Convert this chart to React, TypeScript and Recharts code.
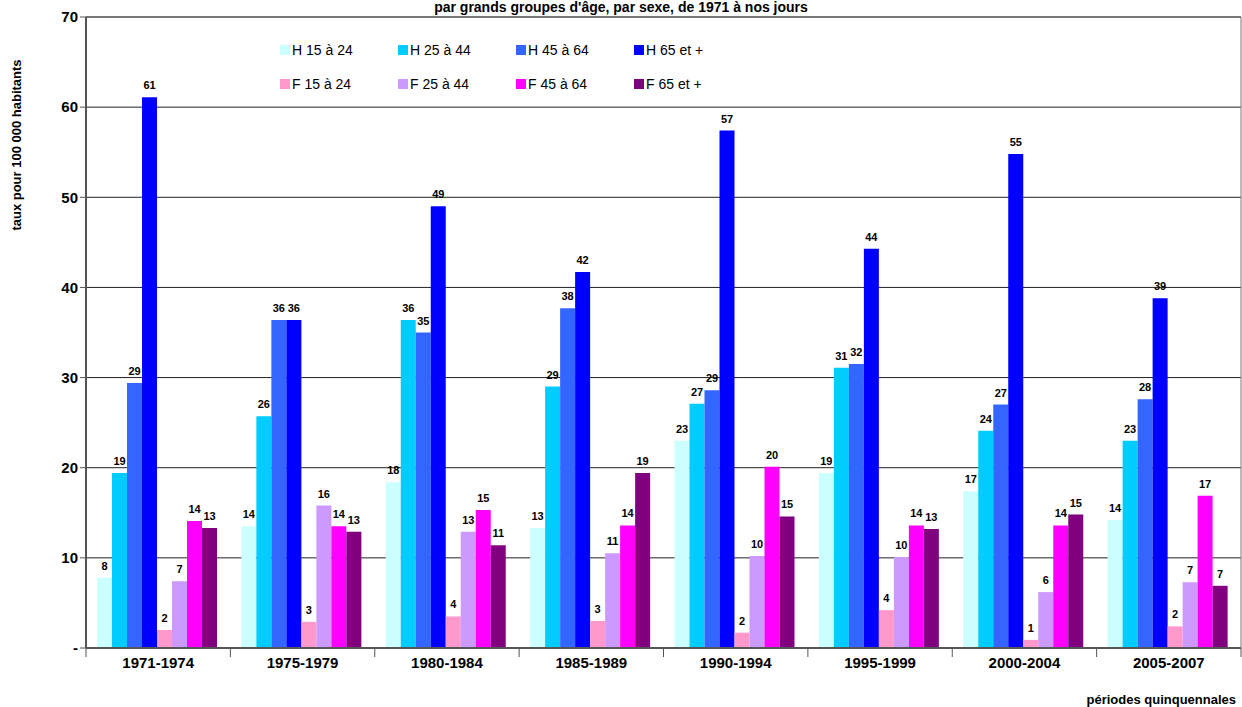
import React from "react";
import { BarChart, Bar, XAxis, YAxis, CartesianGrid, LabelList } from "recharts";

const periods = [
  "1971-1974", "1975-1979", "1980-1984", "1985-1989",
  "1990-1994", "1995-1999", "2000-2004", "2005-2007",
];

// taux pour 100 000 habitants
const h15_24 = [7.8, 13.5, 18.4, 13.3, 23.0, 19.4, 17.4, 14.2];
const h25_44 = [19.4, 25.7, 36.4, 29.0, 27.1, 31.1, 24.1, 23.0];
const h45_64 = [29.4, 36.4, 35.0, 37.7, 28.6, 31.5, 27.0, 27.6];
const h65 = [61.1, 36.4, 49.0, 41.7, 57.4, 44.3, 54.8, 38.8];
const f15_24 = [2.0, 2.9, 3.5, 3.0, 1.7, 4.2, 0.9, 2.4];
const f25_44 = [7.4, 15.8, 12.9, 10.5, 10.2, 10.1, 6.2, 7.3];
const f45_64 = [14.1, 13.5, 15.3, 13.6, 20.1, 13.6, 13.6, 16.9];
const f65 = [13.3, 12.9, 11.4, 19.4, 14.6, 13.2, 14.8, 6.9];

const yTicks = [0, 10, 20, 30, 40, 50, 60, 70];

const SERIES = [
  { key: "h15", name: "H 15 à 24", color: "#CCFFFF", values: h15_24 },
  { key: "h25", name: "H 25 à 44", color: "#00CCFF", values: h25_44 },
  { key: "h45", name: "H 45 à 64", color: "#3366FF", values: h45_64 },
  { key: "h65", name: "H 65 et +", color: "#0000FF", values: h65 },
  { key: "f15", name: "F 15 à 24", color: "#FF99CC", values: f15_24 },
  { key: "f25", name: "F 25 à 44", color: "#CC99FF", values: f25_44 },
  { key: "f45", name: "F 45 à 64", color: "#FF00FF", values: f45_64 },
  { key: "f65", name: "F 65 et +", color: "#800080", values: f65 },
];

const data = periods.map((p, i) => {
  const row: Record<string, string | number> = { period: p };
  SERIES.forEach((s) => (row[s.key] = s.values[i]));
  return row;
});

const FONT = "'Liberation Sans', Arial, sans-serif";
const W = 1242;
const H = 707;
const PLOT_LEFT = 86;
const PLOT_RIGHT = 1241;
const PLOT_BOTTOM = 648;
const BAND = (PLOT_RIGHT - PLOT_LEFT) / periods.length;

function PeriodTick(props: any) {
  const { x, y, payload, index } = props;
  const left = x - BAND / 2;
  return (
    <g>
      <line x1={left} y1={PLOT_BOTTOM} x2={left} y2={PLOT_BOTTOM + 9} stroke="#555" />
      {index === periods.length - 1 && (
        <line x1={left + BAND} y1={PLOT_BOTTOM} x2={left + BAND} y2={PLOT_BOTTOM + 9} stroke="#555" />
      )}
      <text x={x} y={y} dy={12} textAnchor="middle" fontSize={15} fontWeight="bold" fill="#000" fontFamily={FONT}>
        {payload.value}
      </text>
    </g>
  );
}

export default function App() {
  return (
    <div style={{ position: "absolute", left: 0, top: 0, width: W, height: H, background: "#fff", fontFamily: FONT, overflow: "hidden" }}>
      <BarChart
        width={W}
        height={H}
        data={data}
        margin={{ top: 17, right: 0, left: 0, bottom: 19 }}
        barGap={0}
        barCategoryGap={11}
      >
        <CartesianGrid vertical={false} stroke="#222" strokeWidth={1} />
        <XAxis
          dataKey="period"
          height={40}
          tickLine={false}
          axisLine={{ stroke: "#555", strokeWidth: 2 }}
          tick={<PeriodTick />}
          interval={0}
        />
        <YAxis
          domain={[0, 70]}
          ticks={yTicks}
          width={86}
          tickSize={6}
          tickLine={{ stroke: "#555" }}
          axisLine={{ stroke: "#555", strokeWidth: 2 }}
          tickFormatter={(v: number) => (v === 0 ? "-" : String(v))}
          tick={{ fontSize: 15, fontWeight: "bold", fill: "#000", fontFamily: FONT }}
        />
        <YAxis
          yAxisId="frame"
          orientation="right"
          width={1}
          tick={false}
          tickLine={false}
          axisLine={{ stroke: "#777" }}
        />
        {SERIES.map((s) => (
          <Bar key={s.key} dataKey={s.key} name={s.name} fill={s.color} isAnimationActive={false}>
            <LabelList
              dataKey={s.key}
              position="top"
              offset={8}
              formatter={(v: any) => Math.round(Number(v))}
              style={{ fontSize: 11, fontWeight: "bold", fill: "#000", fontFamily: FONT }}
            />
          </Bar>
        ))}
        {/* frame on top edge */}
        <line x1={PLOT_LEFT} y1={17} x2={PLOT_RIGHT} y2={17} stroke="#777" strokeWidth={2} />
      </BarChart>

      {/* chart title */}
      <div style={{ position: "absolute", left: 0, width: W, top: 0, textAlign: "center", fontSize: 14, lineHeight: "15px", fontWeight: "bold" }}>
        par grands groupes d'âge, par sexe, de 1971 à nos jours
      </div>

      {/* y axis title */}
      <div
        style={{
          position: "absolute",
          left: 16,
          top: 145,
          transform: "translate(-50%, -50%) rotate(-90deg)",
          whiteSpace: "nowrap",
          fontSize: 13,
          fontWeight: "bold",
        }}
      >
        taux pour 100 000 habitants
      </div>

      {/* x axis title */}
      <div style={{ position: "absolute", right: 6, top: 692, fontSize: 13, fontWeight: "bold" }}>
        périodes quinquennales
      </div>

      {/* legend, 2 rows x 4 columns */}
      {SERIES.map((s, i) => {
        const col = i % 4;
        const row = Math.floor(i / 4);
        return (
          <div
            key={s.key}
            style={{
              position: "absolute",
              left: 280 + col * 118,
              top: 42 + row * 34,
              display: "flex",
              alignItems: "center",
              fontSize: 14,
              color: "#000",
              whiteSpace: "nowrap",
            }}
          >
            <span style={{ width: 10, height: 10, background: s.color, display: "inline-block", marginRight: 2 }} />
            {s.name}
          </div>
        );
      })}
    </div>
  );
}
